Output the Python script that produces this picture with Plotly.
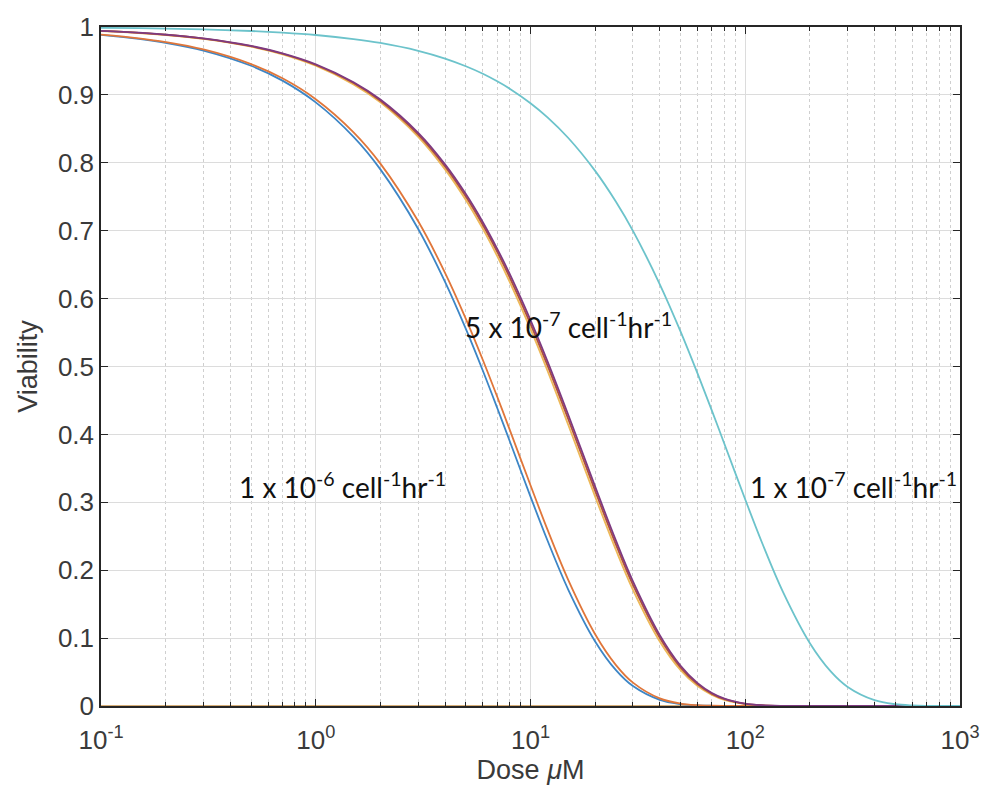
import plotly.graph_objects as go

# Dose grid (uM) shared by every viability curve
dose = [0.1, 0.15, 0.2, 0.3, 0.5, 0.7, 1, 1.5, 2, 3, 4, 5, 6, 7, 8, 10, 12, 15,
        20, 25, 30, 40, 50, 60, 70, 80, 100, 120, 150, 200, 250, 300, 400, 500,
        600, 700, 800, 1000]

# Viability for each run (same order as dose)
via_blue = [0.9883, 0.9825, 0.9767, 0.9653, 0.9429, 0.9210, 0.8890, 0.8382, 0.7903,
            0.7026, 0.6246, 0.5553, 0.4937, 0.4389, 0.3902, 0.3084, 0.2437, 0.1712,
            0.0951, 0.0528, 0.0293, 0.0090, 0.0028, 0.0009, 0.0003, 0.0001, 0, 0, 0,
            0, 0, 0, 0, 0, 0, 0, 0, 0]
via_orange = [0.9888, 0.9833, 0.9778, 0.9669, 0.9454, 0.9244, 0.8937, 0.8449, 0.7988,
              0.7138, 0.6380, 0.5702, 0.5096, 0.4554, 0.4070, 0.3251, 0.2597, 0.1854,
              0.1057, 0.0603, 0.0344, 0.0112, 0.0036, 0.0012, 0.0004, 0.0001, 0, 0, 0,
              0, 0, 0, 0, 0, 0, 0, 0, 0]
via_yellow = [0.9941, 0.9912, 0.9883, 0.9825, 0.9710, 0.9597, 0.9429, 0.9155, 0.8890,
              0.8382, 0.7903, 0.7452, 0.7026, 0.6625, 0.6246, 0.5553, 0.4937, 0.4138,
              0.3084, 0.2298, 0.1712, 0.0951, 0.0528, 0.0293, 0.0163, 0.0090, 0.0028,
              0.0009, 0.0001, 0, 0, 0, 0, 0, 0, 0, 0, 0]
via_darkred = [0.9943, 0.9914, 0.9886, 0.9829, 0.9717, 0.9606, 0.9441, 0.9174, 0.8914,
               0.8416, 0.7946, 0.7502, 0.7083, 0.6688, 0.6314, 0.5629, 0.5017, 0.4223,
               0.3168, 0.2377, 0.1783, 0.1004, 0.0565, 0.0318, 0.0179, 0.0101, 0.0032,
               0.0010, 0.0002, 0, 0, 0, 0, 0, 0, 0, 0, 0]
via_purple = [0.9944, 0.9916, 0.9888, 0.9832, 0.9721, 0.9612, 0.9451, 0.9187, 0.8932,
              0.8441, 0.7977, 0.7539, 0.7125, 0.6733, 0.6364, 0.5684, 0.5076, 0.4285,
              0.3230, 0.2435, 0.1836, 0.1044, 0.0593, 0.0337, 0.0192, 0.0109, 0.0035,
              0.0011, 0.0002, 0, 0, 0, 0, 0, 0, 0, 0, 0]
via_cyan = [0.9988, 0.9982, 0.9976, 0.9964, 0.9941, 0.9917, 0.9882, 0.9823, 0.9765,
            0.9649, 0.9535, 0.9422, 0.9311, 0.9200, 0.9092, 0.8878, 0.8669, 0.8365,
            0.7881, 0.7426, 0.6997, 0.6211, 0.5514, 0.4895, 0.4346, 0.3858, 0.3041,
            0.2397, 0.1677, 0.0925, 0.0510, 0.0281, 0.0086, 0.0026, 0.0008, 0.0002,
            0.0001, 0]
via_zero = [0] * len(dose)

x_tickvals = [0.1, 1, 10, 100, 1000]
x_ticktext = ["10<sup>-1</sup>", "10<sup>0</sup>", "10<sup>1</sup>", "10<sup>2</sup>", "10<sup>3</sup>"]
x_minor = [m * 10 ** e for e in (-1, 0, 1, 2) for m in range(2, 10)]
y_tickvals = [0, 0.1, 0.2, 0.3, 0.4, 0.5, 0.6, 0.7, 0.8, 0.9, 1]
y_ticktext = ["0", "0.1", "0.2", "0.3", "0.4", "0.5", "0.6", "0.7", "0.8", "0.9", "1"]

series = [
    (via_zero, "#D6AE78"),
    (via_blue, "#3D86C6"),
    (via_orange, "#E0763A"),
    (via_yellow, "#EDB858"),
    (via_darkred, "#B0503A"),
    (via_purple, "#7E3A80"),
    (via_cyan, "#6CC3CB"),
]

fig = go.Figure()
for ys, col in series:
    fig.add_trace(go.Scatter(x=dose, y=ys, mode="lines", line=dict(color=col, width=1.8, shape="spline"),
                             showlegend=False, hoverinfo="skip"))

axis_col = "#262626"
sans = "Liberation Sans, Arial, sans-serif"
tick_font = dict(family=sans, size=26, color="#3A3A3A")

fig.update_xaxes(
    type="log", range=[-1, 3], tickmode="array", tickvals=x_tickvals, ticktext=x_ticktext,
    ticks="inside", ticklen=7, tickcolor=axis_col, showline=True, linecolor=axis_col, linewidth=1.5,
    mirror="ticks", showgrid=True, gridcolor="#DCDCDC", gridwidth=1, zeroline=False,
    tickfont=tick_font, ticklabelstandoff=10,
    minor=dict(tickmode="array", tickvals=x_minor, ticks="inside", ticklen=4, tickcolor=axis_col,
               showgrid=True, gridcolor="#CFCFCF", griddash="dot", gridwidth=1),
    title=dict(text="Dose <i>μ</i>M", font=dict(family=sans, size=27, color="#3A3A3A"), standoff=6),
)
fig.update_yaxes(
    range=[0, 1], tickmode="array", tickvals=y_tickvals, ticktext=y_ticktext,
    ticks="inside", ticklen=7, tickcolor=axis_col, showline=True, linecolor=axis_col, linewidth=1.5,
    mirror="ticks", showgrid=True, gridcolor="#DCDCDC", gridwidth=1, zeroline=False,
    tickfont=tick_font,
    title=dict(text="Viability", font=dict(family=sans, size=27, color="#3A3A3A"), standoff=12),
)

label_font = dict(family="Lato, Open Sans, sans-serif", size=28, color="#111111")
labels = [
    ("1 x 10<sup>-6</sup> cell<sup>-1</sup>hr<sup>-1</sup>", 0.158, 0.325),
    ("5 x 10<sup>-7</sup> cell<sup>-1</sup>hr<sup>-1</sup>", 0.4215, 0.560),
    ("1 x 10<sup>-7</sup> cell<sup>-1</sup>hr<sup>-1</sup>", 0.753, 0.325),
]
for txt, ax_x, ax_y in labels:
    fig.add_annotation(text=txt, x=ax_x, y=ax_y, xref="paper", yref="paper", xanchor="left",
                       yanchor="middle", showarrow=False, font=label_font)

fig.update_layout(
    width=992, height=798, paper_bgcolor="white", plot_bgcolor="white",
    margin=dict(l=101, r=25, t=21, b=92),
)

fig.write_html("out.html")
